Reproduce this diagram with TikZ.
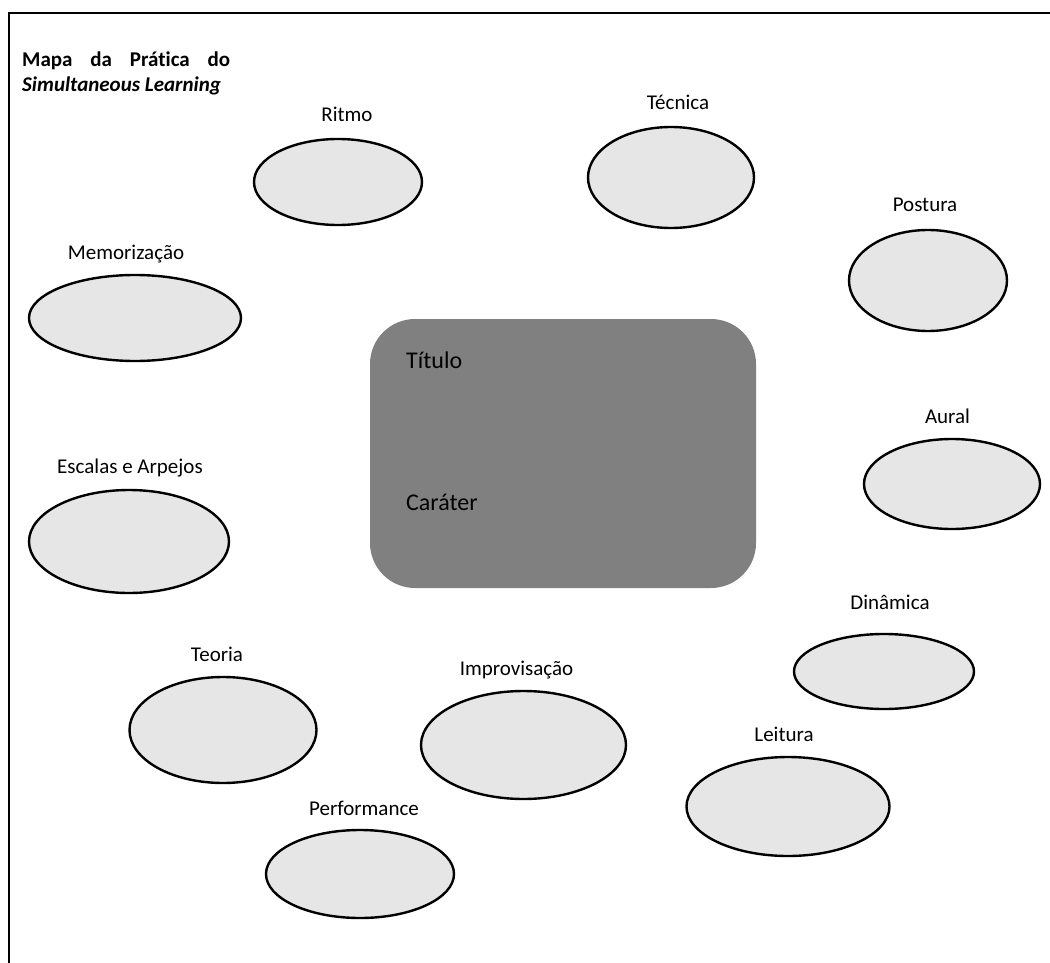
\documentclass[tikz,border=0pt]{standalone}
\usepackage{fontspec}
\setmainfont{Carlito}[Ligatures=NoCommon]
\usetikzlibrary{shapes.geometric}
\definecolor{bubble}{HTML}{E6E6E6}
\definecolor{corefill}{HTML}{808080}
\begin{document}
\begin{tikzpicture}[x=1pt,y=-1pt,
  topic/.style={ellipse,draw=black,line width=2.4pt,fill=bubble,inner sep=0pt},
  tag/.style={anchor=base,inner sep=0pt,font=\fontsize{21}{25}\selectfont},
  heading/.style={anchor=base west,inner sep=0pt,font=\bfseries\fontsize{21}{25}\selectfont},
  coretext/.style={anchor=base west,inner sep=0pt,font=\fontsize{24}{29}\selectfont}]
\useasboundingbox (0,0) rectangle (1050,963);

% frame along the top and the left
\coordinate (frameB) at (9,963);
\coordinate (frameC) at (9,13);
\coordinate (frameR) at (1050,13);
\draw[line width=2pt] (frameB) -- (frameC) -- (frameR);

% heading
\node[heading] (head1) at (22,67) {\makebox[208pt][s]{Mapa da Prática do}};
\node[heading] (head2) at (22,92) {\itshape Simultaneous Learning};

% central block
\node[fill=corefill,rounded corners=45pt,minimum width=386pt,minimum height=269pt,inner sep=0pt] (core) at (563,453.5) {};
\node[coretext] (titulo) at (406,368) {Título};
\node[coretext] (carater) at (406,510) {Caráter};

% topics
\node[topic,minimum width=168pt,minimum height=86pt] (ritmo) at (338,182) {};
\node[tag] (lritmo) at (347,122) {Ritmo};

\node[topic,minimum width=166pt,minimum height=101pt] (tecnica) at (671,177.5) {};
\node[tag] (ltecnica) at (678,110) {Técnica};

\node[topic,minimum width=158pt,minimum height=101pt] (postura) at (928,280.5) {};
\node[tag] (lpostura) at (925,211.5) {Postura};

\node[topic,minimum width=212pt,minimum height=86pt] (memo) at (135,318) {};
\node[tag] (lmemo) at (126,259) {Memorização};

\node[topic,minimum width=176pt,minimum height=90pt] (aural) at (952,484) {};
\node[tag] (laural) at (947.5,423) {Aural};

\node[topic,minimum width=200pt,minimum height=103pt] (escalas) at (129,541.5) {};
\node[tag] (lescalas) at (130,473) {Escalas e Arpejos};

\node[topic,minimum width=180pt,minimum height=75pt] (dinamica) at (884,671.5) {};
\node[tag] (ldinamica) at (890,609) {Dinâmica};

\node[topic,minimum width=187pt,minimum height=106pt] (teoria) at (223,730) {};
\node[tag] (lteoria) at (217,661.5) {Teoria};

\node[topic,minimum width=205pt,minimum height=108pt] (improv) at (523.5,745) {};
\node[tag] (limprov) at (516.5,675) {Improvisação};

\node[topic,minimum width=203pt,minimum height=99pt] (leitura) at (788,806.5) {};
\node[tag] (lleitura) at (784,741.5) {Leitura};

\node[topic,minimum width=188pt,minimum height=88pt] (perf) at (360,874) {};
\node[tag] (lperf) at (364,815.5) {Performance};
\end{tikzpicture}
\end{document}
